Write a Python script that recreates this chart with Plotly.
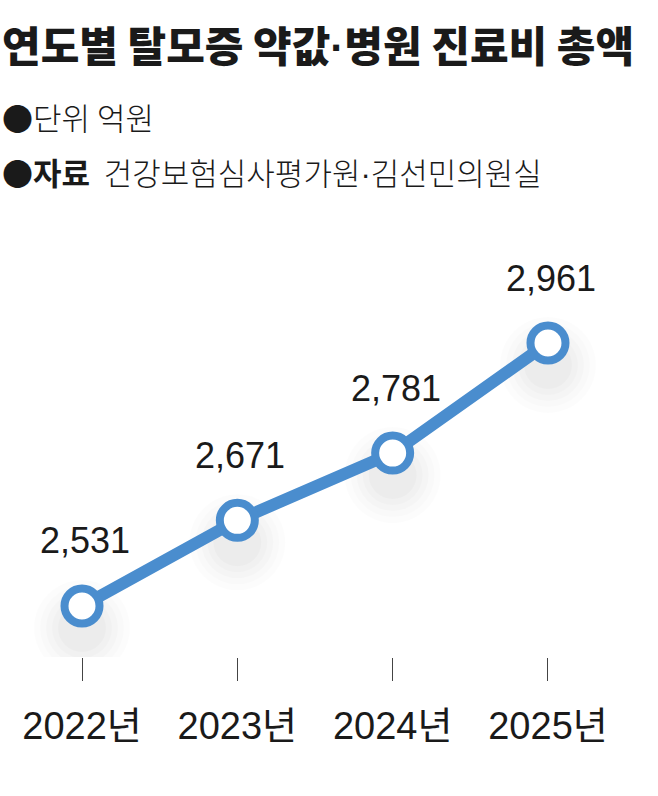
import plotly.graph_objects as go

years = [2022, 2023, 2024, 2025]
values = [2531, 2671, 2781, 2961]
tick_labels = [f"{y}년" for y in years]
value_labels = [f"{v:,}" for v in values]

title_parts = ["연도별 탈모증 약값", "병원 진료비 총액"]
unit_text = "●단위 억원"
source_label = "●자료"
source_parts = ["건강보험심사평가원", "김선민의원실"]

BLUE = "#4A8DCE"
KR = "Noto Sans CJK KR"
NUM = "Liberation Sans, Arial, Noto Sans CJK KR"
DOT = '<span style="font-family:Liberation Sans">·</span>'

W, H = 658, 796
T, B = 220, 139
plot_h = H - T - B  # 437
y0, y1 = 2447.6, 3162.1
px_per_unit = plot_h / (y1 - y0)
shadow_shift = 22 / px_per_unit

fig = go.Figure()

# very soft shadow under markers (same data, on a shifted base axis drawn below)
for sz, op in [(96, 0.010), (84, 0.012), (72, 0.014), (60, 0.016), (48, 0.018)]:
    fig.add_trace(go.Scatter(
        x=years, y=values, mode="markers", yaxis="y",
        marker=dict(size=sz, color=f"rgba(0,0,0,{op})", line=dict(width=0)),
        hoverinfo="skip", showlegend=False))

fig.add_trace(go.Scatter(
    x=years, y=values, mode="lines+markers", yaxis="y2",
    line=dict(color=BLUE, width=12),
    marker=dict(size=35, color="white", line=dict(color=BLUE, width=8)),
    showlegend=False))

annotations = []
for x, v, lab in zip(years, values, value_labels):
    annotations.append(dict(
        x=x, y=v, yref="y2", text=lab, showarrow=False, yshift=65, xshift=3,
        font=dict(family=NUM, size=36, color="#1a1a1a")))

def py(p):
    return (H - B - p) / plot_h

annotations.append(dict(
    xref="paper", yref="paper", x=0.0, y=py(43), xanchor="left", yanchor="middle",
    text=DOT.join(title_parts), showarrow=False,
    font=dict(family=KR, size=42, color="#1a1a1a", weight=900)))
annotations.append(dict(
    xref="paper", yref="paper", x=0.0, y=py(117), xanchor="left", yanchor="middle",
    text=unit_text, showarrow=False,
    font=dict(family=KR, size=31, color="#1a1a1a", weight=300)))
annotations.append(dict(
    xref="paper", yref="paper", x=0.0, y=py(171), xanchor="left", yanchor="middle",
    text=f"<b>{source_label}</b>  " + DOT.join(source_parts), showarrow=False,
    font=dict(family=KR, size=31, color="#1a1a1a", weight=300)))

fig.update_layout(
    width=W, height=H,
    margin=dict(l=0, r=0, t=T, b=B, pad=0),
    paper_bgcolor="white", plot_bgcolor="white",
    xaxis=dict(
        range=[2021.4721, 2025.7082], tickvals=years, ticktext=tick_labels,
        showgrid=False, zeroline=False, showline=False,
        ticks="outside", ticklen=23, tickwidth=1.2, tickcolor="#444",
        ticklabelstandoff=12,
        tickfont=dict(family=NUM, size=38, color="#1a1a1a")),
    yaxis=dict(range=[y0 + shadow_shift, y1 + shadow_shift], visible=False,
               showgrid=False, zeroline=False),
    yaxis2=dict(range=[y0, y1], overlaying="y",
                visible=False, showgrid=False, zeroline=False),
    annotations=annotations,
)

fig.write_html("out.html")
